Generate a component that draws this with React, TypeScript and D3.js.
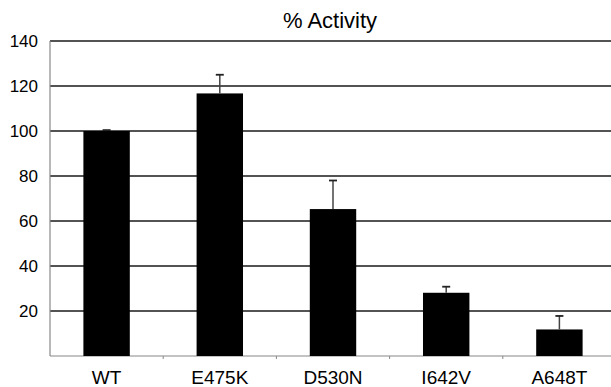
import React from "react";
import * as d3 from "d3";

const categories = ["WT", "E475K", "D530N", "I642V", "A648T"];
const values = [100, 116.7, 65.3, 28.1, 11.8];
const errors = [0.4, 8.3, 12.7, 2.7, 6.0];
const yTicks = [20, 40, 60, 80, 100, 120, 140];
const title = "% Activity";

const W = 611;
const H = 387;
const margin = { left: 50, right: -5, top: 41, bottom: 31 };

export default function App() {
  const x = d3
    .scaleBand<string>()
    .domain(categories)
    .range([margin.left, W - margin.right])
    .paddingInner(0.59)
    .paddingOuter(0.295);
  const y = d3.scaleLinear().domain([0, 140]).range([H - margin.bottom, margin.top]);
  const step = x.step();
  const x0 = margin.left;
  const x1 = W - margin.right;
  const yb = y(0);
  const font = "Liberation Sans, Arial, sans-serif";

  return (
    <svg
      width={W}
      height={H}
      style={{ position: "absolute", left: 0, top: 0, background: "#fff" }}
      fontFamily={font}
    >
      <rect x={0} y={0} width={W} height={H} fill="#fff" />
      <text x={330} y={28} textAnchor="middle" fontSize={22} fill="#000">
        {title}
      </text>
      {yTicks.map((t) => (
        <g key={t}>
          <line x1={x0} x2={x1} y1={y(t)} y2={y(t)} stroke="#1a1a1a" strokeWidth={1.4} />
          <text
            x={38}
            y={y(t)}
            textAnchor="end"
            dominantBaseline="central"
            fontSize={17}
            fill="#000"
          >
            {t}
          </text>
        </g>
      ))}
      <line x1={x0} x2={x0} y1={y(140)} y2={yb} stroke="#888" strokeWidth={1.2} />
      <line x1={x0} x2={x1} y1={yb} y2={yb} stroke="#888" strokeWidth={1.2} />
      {categories.map((c, i) => (
        <line
          key={"tk" + i}
          x1={x0 + step * (i + 1)}
          x2={x0 + step * (i + 1)}
          y1={yb}
          y2={yb + 3}
          stroke="#888"
          strokeWidth={1}
        />
      ))}
      {categories.map((c, i) => {
        const bx = x(c)!;
        const bw = x.bandwidth();
        const cx = bx + bw / 2;
        const top = y(values[i]);
        const et = y(values[i] + errors[i]);
        return (
          <g key={c}>
            <rect x={bx} y={top} width={bw} height={yb - top} fill="#000" />
            <line x1={cx} x2={cx} y1={top} y2={et} stroke="#444" strokeWidth={1.5} />
            <line x1={cx - 4} x2={cx + 4} y1={et} y2={et} stroke="#222" strokeWidth={1.8} />
            <text x={cx} y={384} textAnchor="middle" fontSize={19} fill="#000">
              {c}
            </text>
          </g>
        );
      })}
    </svg>
  );
}
